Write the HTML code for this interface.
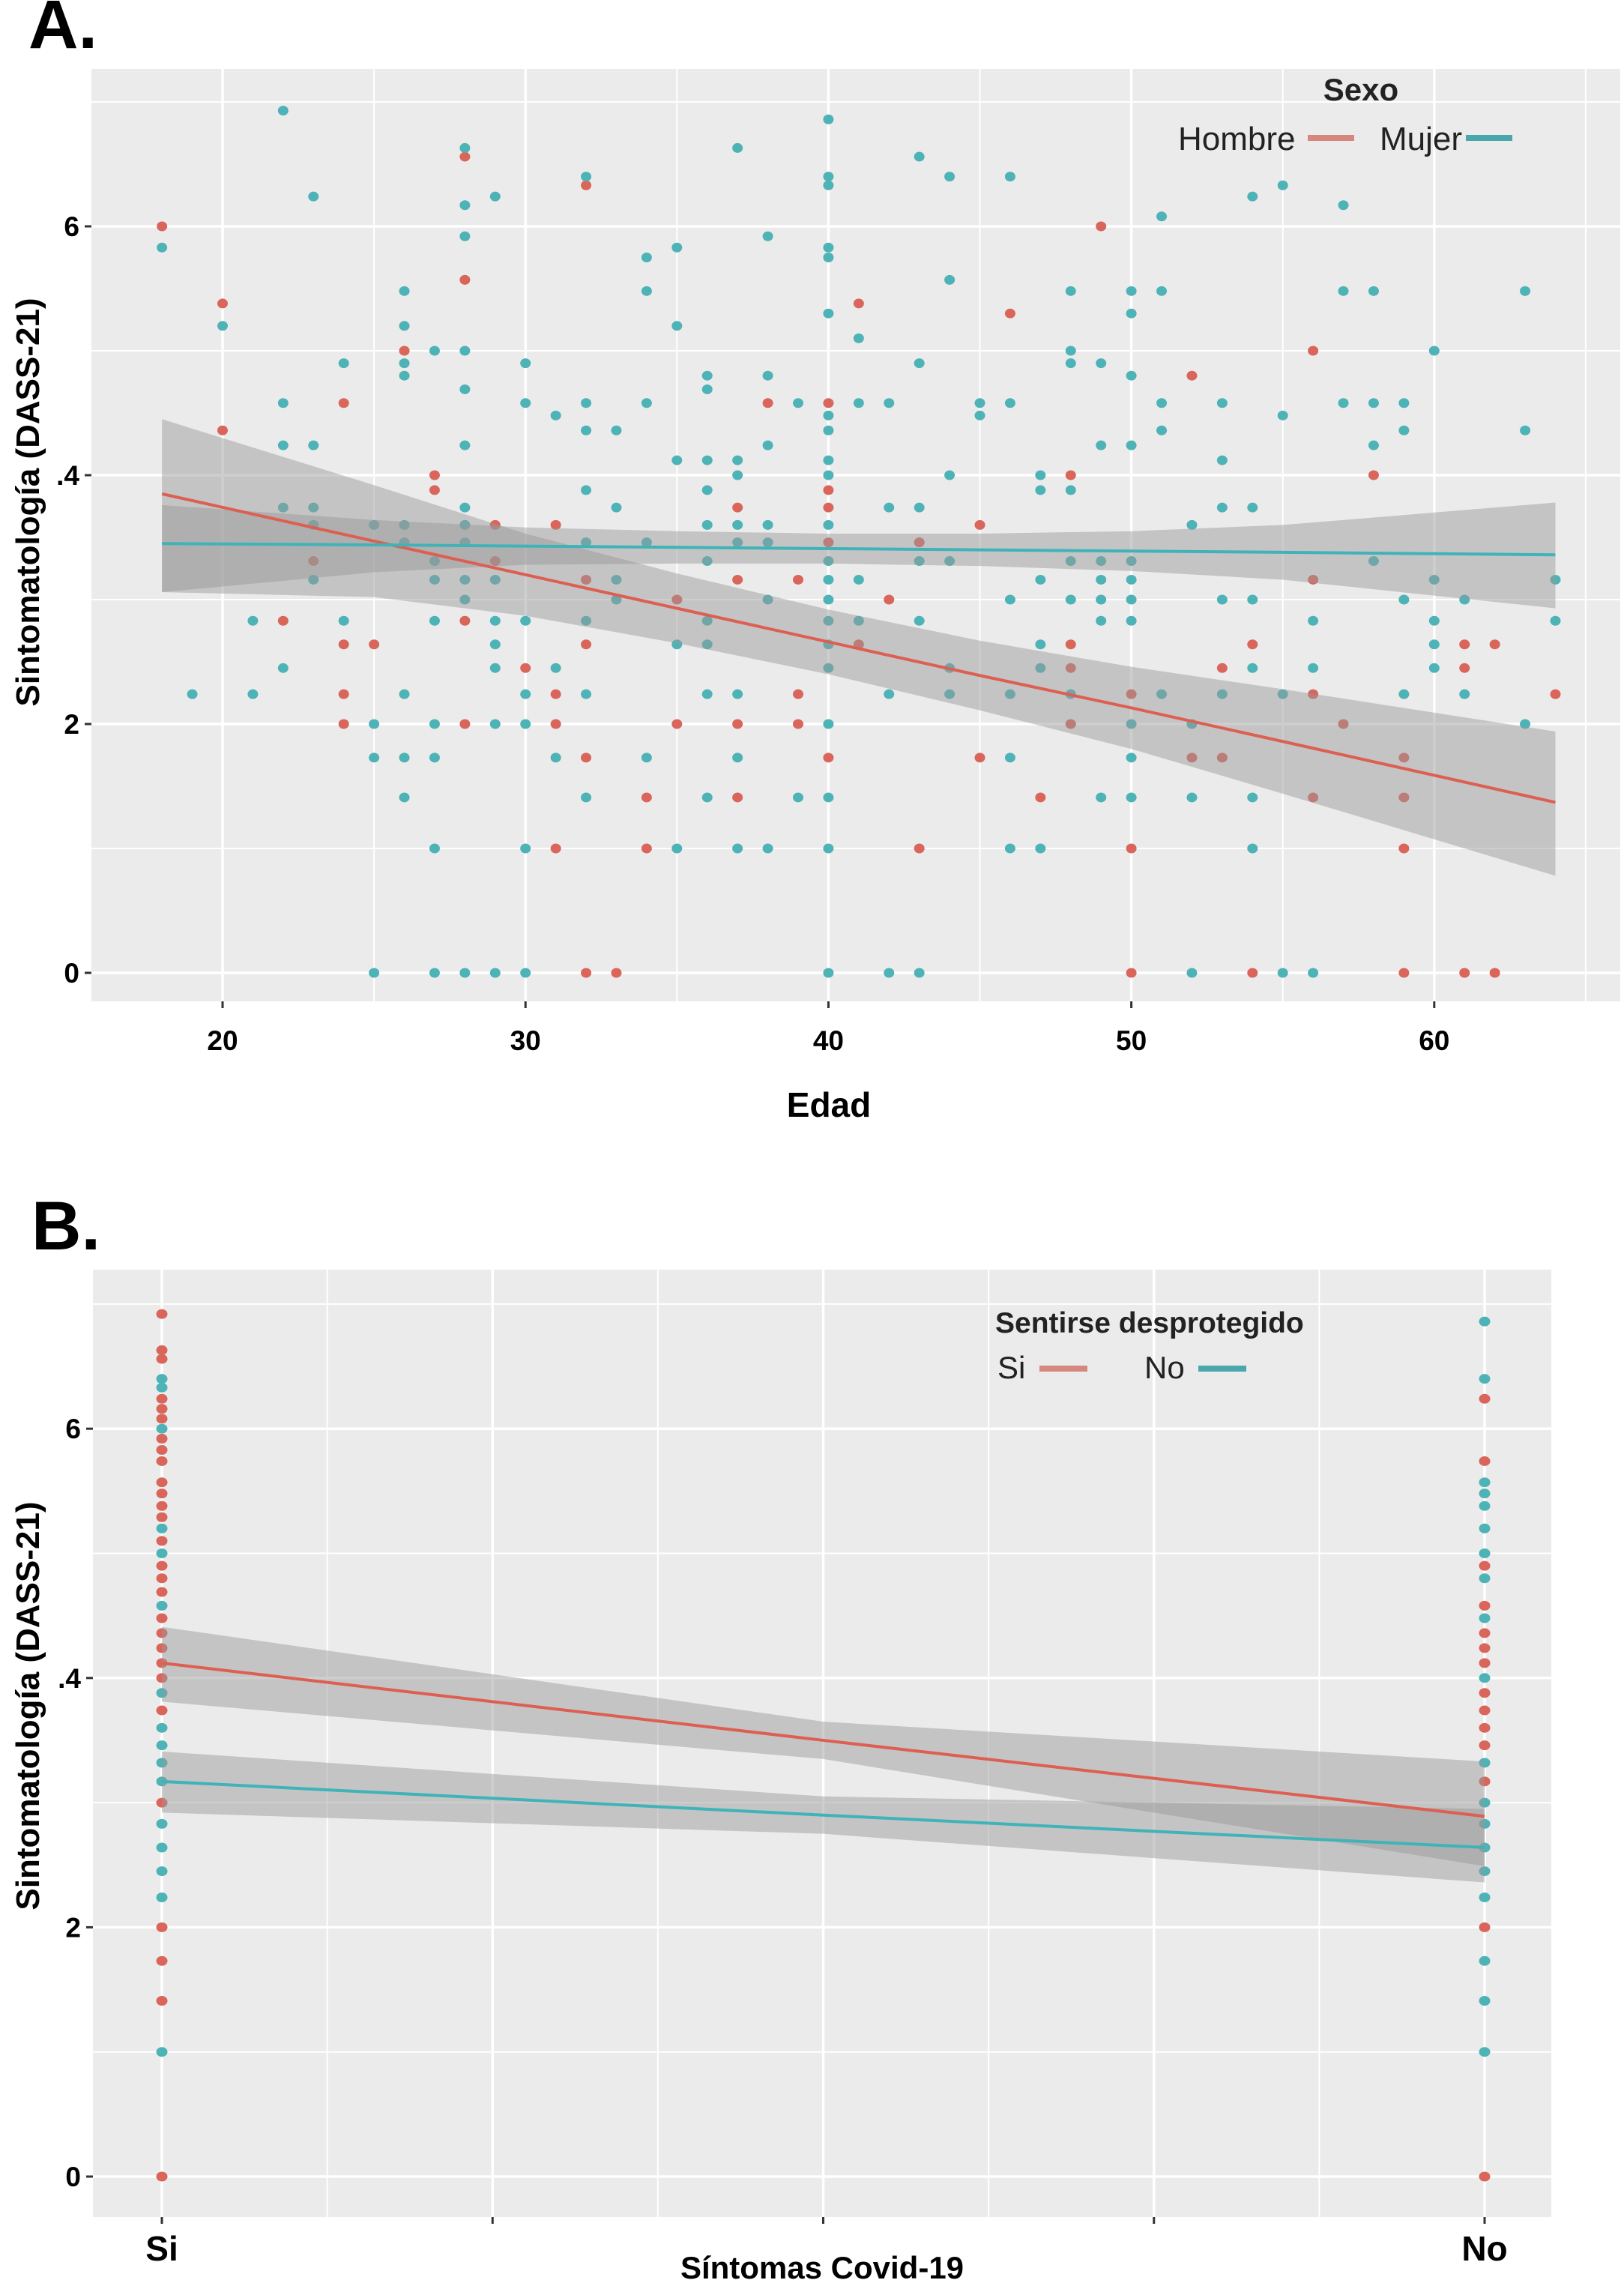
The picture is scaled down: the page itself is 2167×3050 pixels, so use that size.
<!DOCTYPE html>
<html><head><meta charset="utf-8">
<style>
html,body{margin:0;padding:0;background:#fff;}
svg{display:block;font-family:"Liberation Sans",Arial,sans-serif;}
</style></head>
<body>
<svg id="chart" width="2167" height="3050" viewBox="0 0 2167 3050" xmlns="http://www.w3.org/2000/svg">
<text x="38" y="64" font-size="92" font-weight="bold">A.</text>
<text x="42" y="1667" font-size="92" font-weight="bold">B.</text>
<g id="panelA"></g>
<g id="panelB"></g>
</svg>
<script>
// ---------- Panel A data ----------
const hombrePts = [[18,6.0],[20,5.38],[20,4.36],[22,2.83],[23,3.31],[24,4.58],[24,2.64],[24,2.24],[24,2.0],[25,2.64],[26,5.0],[27,4.0],[27,3.88],[28,6.56],[28,5.57],[28,2.83],[28,2.0],[29,3.6],[29,3.31],[30,2.45],[31,3.6],[31,2.24],[31,2.0],[31,1.0],[32,6.33],[32,3.16],[32,2.64],[32,1.73],[32,0],[33,0],[34,1.41],[34,1.0],[35,3.0],[35,2.0],[37,3.74],[37,3.16],[37,2.0],[37,1.41],[38,4.58],[39,3.16],[39,2.24],[39,2.0],[40,4.58],[40,3.88],[40,3.74],[40,3.46],[40,1.73],[41,5.38],[41,2.64],[42,3.0],[43,3.46],[43,1.0],[45,3.6],[45,1.73],[46,5.3],[47,1.41],[48,4.0],[48,2.64],[48,2.45],[48,2.0],[49,6.0],[50,2.24],[50,1.0],[50,0],[52,4.8],[52,1.73],[53,2.45],[53,1.73],[54,2.64],[54,0],[56,5.0],[56,3.16],[56,2.24],[56,1.41],[57,2.0],[58,4.0],[59,1.73],[59,1.41],[59,1.0],[59,0],[61,2.64],[61,2.45],[61,0],[62,2.64],[62,0],[64,2.24]];
const mujerPts = [[18,5.83],[19,2.24],[20,5.2],[21,2.83],[21,2.24],[22,6.93],[22,4.58],[22,4.24],[22,3.74],[22,2.45],[23,6.24],[23,4.24],[23,3.74],[23,3.6],[23,3.16],[24,4.9],[24,2.83],[25,3.6],[25,2.0],[25,1.73],[25,0],[26,5.48],[26,5.2],[26,4.9],[26,4.8],[26,3.6],[26,3.46],[26,2.24],[26,1.73],[26,1.41],[27,5.0],[27,3.31],[27,3.16],[27,2.83],[27,2.0],[27,1.73],[27,1.0],[27,0],[28,6.63],[28,6.17],[28,5.92],[28,5.0],[28,4.69],[28,4.24],[28,3.74],[28,3.6],[28,3.46],[28,3.16],[28,3.0],[28,0],[29,6.24],[29,3.16],[29,2.83],[29,2.64],[29,2.45],[29,2.0],[29,0],[30,4.9],[30,4.58],[30,2.83],[30,2.24],[30,2.0],[30,1.0],[30,0],[31,4.48],[31,2.45],[31,1.73],[32,6.4],[32,4.58],[32,4.36],[32,3.88],[32,3.46],[32,2.83],[32,2.24],[32,1.41],[33,4.36],[33,3.74],[33,3.16],[33,3.0],[34,5.75],[34,5.48],[34,4.58],[34,3.46],[34,1.73],[35,5.83],[35,5.2],[35,4.12],[35,2.64],[35,1.0],[36,4.8],[36,4.69],[36,4.12],[36,3.88],[36,3.6],[36,3.31],[36,2.83],[36,2.64],[36,2.24],[36,1.41],[37,6.63],[37,4.12],[37,4.0],[37,3.6],[37,3.46],[37,2.24],[37,1.73],[37,1.0],[38,5.92],[38,4.8],[38,4.24],[38,3.6],[38,3.46],[38,3.0],[38,1.0],[39,4.58],[39,1.41],[40,6.86],[40,6.4],[40,6.33],[40,5.83],[40,5.75],[40,5.3],[40,4.48],[40,4.36],[40,4.12],[40,4.0],[40,3.6],[40,3.31],[40,3.16],[40,3.0],[40,2.83],[40,2.64],[40,2.45],[40,2.0],[40,1.41],[40,1.0],[40,0],[41,5.1],[41,4.58],[41,3.16],[41,2.83],[42,4.58],[42,3.74],[42,2.24],[42,0],[43,6.56],[43,4.9],[43,3.74],[43,3.31],[43,2.83],[43,0],[44,6.4],[44,5.57],[44,4.0],[44,3.31],[44,2.45],[44,2.24],[45,4.58],[45,4.48],[46,6.4],[46,4.58],[46,3.0],[46,2.24],[46,1.73],[46,1.0],[47,4.0],[47,3.88],[47,3.16],[47,2.64],[47,2.45],[47,1.0],[48,5.48],[48,5.0],[48,4.9],[48,3.88],[48,3.31],[48,3.0],[48,2.24],[49,4.9],[49,4.24],[49,3.31],[49,3.16],[49,3.0],[49,2.83],[49,1.41],[50,5.48],[50,5.3],[50,4.8],[50,4.24],[50,3.31],[50,3.16],[50,3.0],[50,2.83],[50,2.0],[50,1.73],[50,1.41],[51,6.08],[51,5.48],[51,4.58],[51,4.36],[51,2.24],[52,3.6],[52,2.0],[52,1.41],[52,0],[53,4.58],[53,4.12],[53,3.74],[53,3.0],[53,2.24],[54,6.24],[54,3.74],[54,3.0],[54,2.45],[54,1.41],[54,1.0],[55,6.33],[55,4.48],[55,2.24],[55,0],[56,2.83],[56,2.45],[56,0],[57,6.17],[57,5.48],[57,4.58],[58,5.48],[58,4.58],[58,4.24],[58,3.31],[59,4.58],[59,4.36],[59,3.0],[59,2.24],[60,5.0],[60,3.16],[60,2.83],[60,2.64],[60,2.45],[61,3.0],[61,2.24],[63,5.48],[63,4.36],[63,2.0],[64,3.16],[64,2.83]];
const fitAgeA = [18,25,30,35,40,45,50,55,64];
const hombreFit = [3.85,3.47,3.20,2.93,2.66,2.39,2.13,1.86,1.37];
const hombreUpper = [4.45,3.92,3.53,3.21,2.92,2.67,2.46,2.28,1.94];
const hombreLower = [3.06,3.02,2.87,2.65,2.40,2.11,1.80,1.44,0.78];
const mujerFit = [3.45,3.44,3.43,3.42,3.41,3.40,3.39,3.38,3.36];
const mujerUpper = [3.76,3.64,3.58,3.55,3.53,3.53,3.55,3.60,3.78];
const mujerLower = [3.06,3.22,3.28,3.29,3.29,3.27,3.23,3.16,2.93];
const xTicksA = [20,30,40,50,60];
const yTicks = [0,2,4,6];
const yTickLabels = ["0","2",".4","6"];

// ---------- Panel B data ----------
const bCategories = ["Si","No"];
const siPts = [[1,6.92],[1,6.63],[1,6.56],[1,6.24],[1,6.16],[1,6.08],[1,5.92],[1,5.83],[1,5.74],[1,5.57],[1,5.48],[1,5.38],[1,5.29],[1,5.1],[1,4.9],[1,4.8],[1,4.69],[1,4.48],[1,4.36],[1,4.24],[1,4.12],[1,4.0],[1,3.74],[1,3.0],[1,2.0],[1,1.73],[1,1.41],[1,0],
 [2,6.24],[2,5.74],[2,4.9],[2,4.58],[2,4.36],[2,4.24],[2,4.12],[2,3.88],[2,3.74],[2,3.6],[2,3.46],[2,3.17],[2,2.0],[2,0]];
const noPts = [[1,6.4],[1,6.33],[1,6.0],[1,5.2],[1,5.0],[1,4.58],[1,3.88],[1,3.6],[1,3.46],[1,3.32],[1,3.17],[1,2.83],[1,2.64],[1,2.45],[1,2.24],[1,1.0],
 [2,6.86],[2,6.4],[2,5.57],[2,5.48],[2,5.38],[2,5.2],[2,5.0],[2,4.8],[2,4.48],[2,4.0],[2,3.32],[2,3.0],[2,2.83],[2,2.64],[2,2.45],[2,2.24],[2,1.73],[2,1.41],[2,1.0]];
const fitXB = [1,1.5,2];
const siFit = [4.12,3.50,2.89];
const siUpper = [4.41,3.65,3.33];
const siLower = [3.81,3.35,2.49];
const noFit = [3.17,2.90,2.64];
const noUpper = [3.41,3.05,2.95];
const noLower = [2.92,2.75,2.36];

const NS = "http://www.w3.org/2000/svg";
const RED = "#dd5f52", TEAL = "#3fb3b7", PTRED="#d9655b", PTTEAL="#4db3b7";
function mk(parent, tag, attrs){ const e=document.createElementNS(NS,tag); for(const k in attrs) e.setAttribute(k,attrs[k]); parent.appendChild(e); return e; }

function panel(g, L, T, R, B, xMin, xMax, yMin, yMax){
  const sx = v => L + (v-xMin)/(xMax-xMin)*(R-L);
  const sy = v => B - (v-yMin)/(yMax-yMin)*(B-T);
  const bg = mk(g,"rect",{x:L,y:T,width:R-L,height:B-T,fill:"#ebebeb"});
  
  
  return {sx, sy};
}

// ---------- Panel A ----------
(function(){
  const g = document.getElementById("panelA");
  const L=122,T=92,R=2162,B=1336;
  const yMin = 0 - (B-1298)/166, yMax = 0 + (1298-T)/166;
  const xMin = 20 - (297-L)/40.42, xMax = 20 + (R-297)/40.42;
  const {sx, sy} = panel(g,L,T,R,B,xMin,xMax,yMin,yMax);
  for(let v=0; v<=7; v++){
    const ln = mk(g,"line",{x1:L,x2:R,y1:sy(v),y2:sy(v),stroke:"#fff","stroke-width":v%2===0?3.5:2});
    
    
  }
  for(let v=15; v<=65; v+=5){
    const ln = mk(g,"line",{x1:sx(v),x2:sx(v),y1:T,y2:B,stroke:"#fff","stroke-width":v%10===0?3.5:2});
    
    
  }
  hombrePts.forEach(p=>{
    const c = mk(g,"ellipse",{cx:sx(p[0]),cy:sy(p[1]),rx:7,ry:6.5,fill:PTRED});
    
    
  });
  mujerPts.forEach(p=>{
    const c = mk(g,"ellipse",{cx:sx(p[0]),cy:sy(p[1]),rx:7,ry:6.5,fill:PTTEAL});
    
    
  });
  function band(xs, up, lo, name){
    let d = xs.map((x,i)=>(i?"L":"M")+sx(x)+","+sy(up[i])).join(" ");
    for(let i=xs.length-1;i>=0;i--) d += " L"+sx(xs[i])+","+sy(lo[i]);
    const p = mk(g,"path",{d:d+" Z",fill:"#999999","fill-opacity":0.48});
    
    
  }
  band(fitAgeA,hombreUpper,hombreLower,'hombre-confidence-band');
  band(fitAgeA,mujerUpper,mujerLower,'mujer-confidence-band');
  function line(xs, ys, col, name){
    const p = mk(g,"polyline",{points:xs.map((x,i)=>sx(x)+","+sy(ys[i])).join(" "),fill:"none",stroke:col,"stroke-width":4});
    
    
  }
  line(fitAgeA,hombreFit,RED,'hombre-trend-line');
  line(fitAgeA,mujerFit,TEAL,'mujer-trend-line');
  yTicks.forEach((v,i)=>{
    const tk = mk(g,"line",{x1:L-9,x2:L,y1:sy(v),y2:sy(v),stroke:"#333","stroke-width":3});
    
    
    const t = mk(g,"text",{x:L-16,y:sy(v)+13,"text-anchor":"end","font-size":37,"font-weight":"bold"});
    t.textContent = yTickLabels[i];
    
    
  });
  xTicksA.forEach(v=>{
    const tk = mk(g,"line",{x1:sx(v),x2:sx(v),y1:B,y2:B+9,stroke:"#333","stroke-width":3});
    
    
    const t = mk(g,"text",{x:sx(v),y:1401,"text-anchor":"middle","font-size":37,"font-weight":"bold"});
    t.textContent = String(v);
    
    
  });
  const xt = mk(g,"text",{x:1106,y:1490,"text-anchor":"middle","font-size":46,"font-weight":"bold"});
  xt.textContent="Edad";
  
  
  const yt = mk(g,"text",{x:0,y:0,"text-anchor":"middle","font-size":44,"font-weight":"bold",transform:"translate(52,670) rotate(-90)"});
  yt.textContent="Sintomatología (DASS-21)";
  
  
  const lt = mk(g,"text",{x:1816,y:134,"text-anchor":"middle","font-size":42,"font-weight":"bold",fill:"#222"});
  lt.textContent="Sexo";
  
  
  const h = mk(g,"text",{x:1572,y:200,"font-size":44,fill:"#222"});
  h.textContent="Hombre";
  
  
  const hl = mk(g,"line",{x1:1745,x2:1807,y1:184,y2:184,stroke:"#d6877e","stroke-width":8});
  
  
  const m = mk(g,"text",{x:1841,y:200,"font-size":44,fill:"#222"});
  m.textContent="Mujer";
  
  
  const ml = mk(g,"line",{x1:1956,x2:2018,y1:184,y2:184,stroke:"#4aa8ad","stroke-width":8});
  
  
})();

// ---------- Panel B ----------
(function(){
  const g = document.getElementById("panelB");
  const L=124,T=1694,R=2070,B=2958;
  const y0=2904, uy=166.3, x1p=216, x2p=1981;
  const yMin = -(B-y0)/uy, yMax = (y0-T)/uy;
  const xMin = 1 - (x1p-L)/(x2p-x1p), xMax = 1 + (R-x1p)/(x2p-x1p);
  const {sx, sy} = panel(g,L,T,R,B,xMin,xMax,yMin,yMax);
  for(let v=0; v<=7; v++){
    const ln = mk(g,"line",{x1:L,x2:R,y1:sy(v),y2:sy(v),stroke:"#fff","stroke-width":v%2===0?3.5:2});
    
    
  }
  for(let k=0; k<=8; k++){
    const v = 1 + k*0.125;
    const ln = mk(g,"line",{x1:sx(v),x2:sx(v),y1:T,y2:B,stroke:"#fff","stroke-width":k%2===0?3.5:2});
    
    
  }
  siPts.forEach(p=>{
    const c = mk(g,"ellipse",{cx:sx(p[0]),cy:sy(p[1]),rx:7.5,ry:6.5,fill:PTRED});
    
    
  });
  noPts.forEach(p=>{
    const c = mk(g,"ellipse",{cx:sx(p[0]),cy:sy(p[1]),rx:7.5,ry:6.5,fill:PTTEAL});
    
    
  });
  function band(xs, up, lo, name){
    let d = xs.map((x,i)=>(i?"L":"M")+sx(x)+","+sy(up[i])).join(" ");
    for(let i=xs.length-1;i>=0;i--) d += " L"+sx(xs[i])+","+sy(lo[i]);
    const p = mk(g,"path",{d:d+" Z",fill:"#999999","fill-opacity":0.48});
    
    
  }
  band(fitXB,siUpper,siLower,'si-confidence-band');
  band(fitXB,noUpper,noLower,'no-confidence-band');
  function line(xs, ys, col, name){
    const p = mk(g,"polyline",{points:xs.map((x,i)=>sx(x)+","+sy(ys[i])).join(" "),fill:"none",stroke:col,"stroke-width":4});
    
    
  }
  line(fitXB,siFit,RED,'si-trend-line');
  line(fitXB,noFit,TEAL,'no-trend-line');
  yTicks.forEach((v,i)=>{
    const tk = mk(g,"line",{x1:L-9,x2:L,y1:sy(v),y2:sy(v),stroke:"#333","stroke-width":3});
    
    
    const t = mk(g,"text",{x:L-16,y:sy(v)+13,"text-anchor":"end","font-size":37,"font-weight":"bold"});
    t.textContent = yTickLabels[i];
    
    
  });
  for(let k=0;k<=4;k++){
    const v = 1 + k*0.25;
    const tk = mk(g,"line",{x1:sx(v),x2:sx(v),y1:B,y2:B+9,stroke:"#333","stroke-width":3});
    
    
  }
  bCategories.forEach((c,i)=>{
    const t = mk(g,"text",{x:sx(i+1),y:3016,"text-anchor":"middle","font-size":46,"font-weight":"bold"});
    t.textContent = c;
    
    
  });
  const xt = mk(g,"text",{x:1097,y:3040,"text-anchor":"middle","font-size":42,"font-weight":"bold"});
  xt.textContent="Síntomas Covid-19";
  
  
  const yt = mk(g,"text",{x:0,y:0,"text-anchor":"middle","font-size":44,"font-weight":"bold",transform:"translate(52,2276) rotate(-90)"});
  yt.textContent="Sintomatología (DASS-21)";
  
  
  const lt = mk(g,"text",{x:1328,y:1778,"font-size":39,"font-weight":"bold",fill:"#222"});
  lt.textContent="Sentirse desprotegido";
  
  
  const s = mk(g,"text",{x:1331,y:1839,"font-size":42,fill:"#222"});
  s.textContent="Si";
  
  
  const sl = mk(g,"line",{x1:1387,x2:1451,y1:1826,y2:1826,stroke:"#d6877e","stroke-width":8});
  
  
  const n = mk(g,"text",{x:1527,y:1839,"font-size":42,fill:"#222"});
  n.textContent="No";
  
  
  const nl = mk(g,"line",{x1:1599,x2:1663,y1:1826,y2:1826,stroke:"#4aa8ad","stroke-width":8});
  
  
})();
</script>
</body></html>
